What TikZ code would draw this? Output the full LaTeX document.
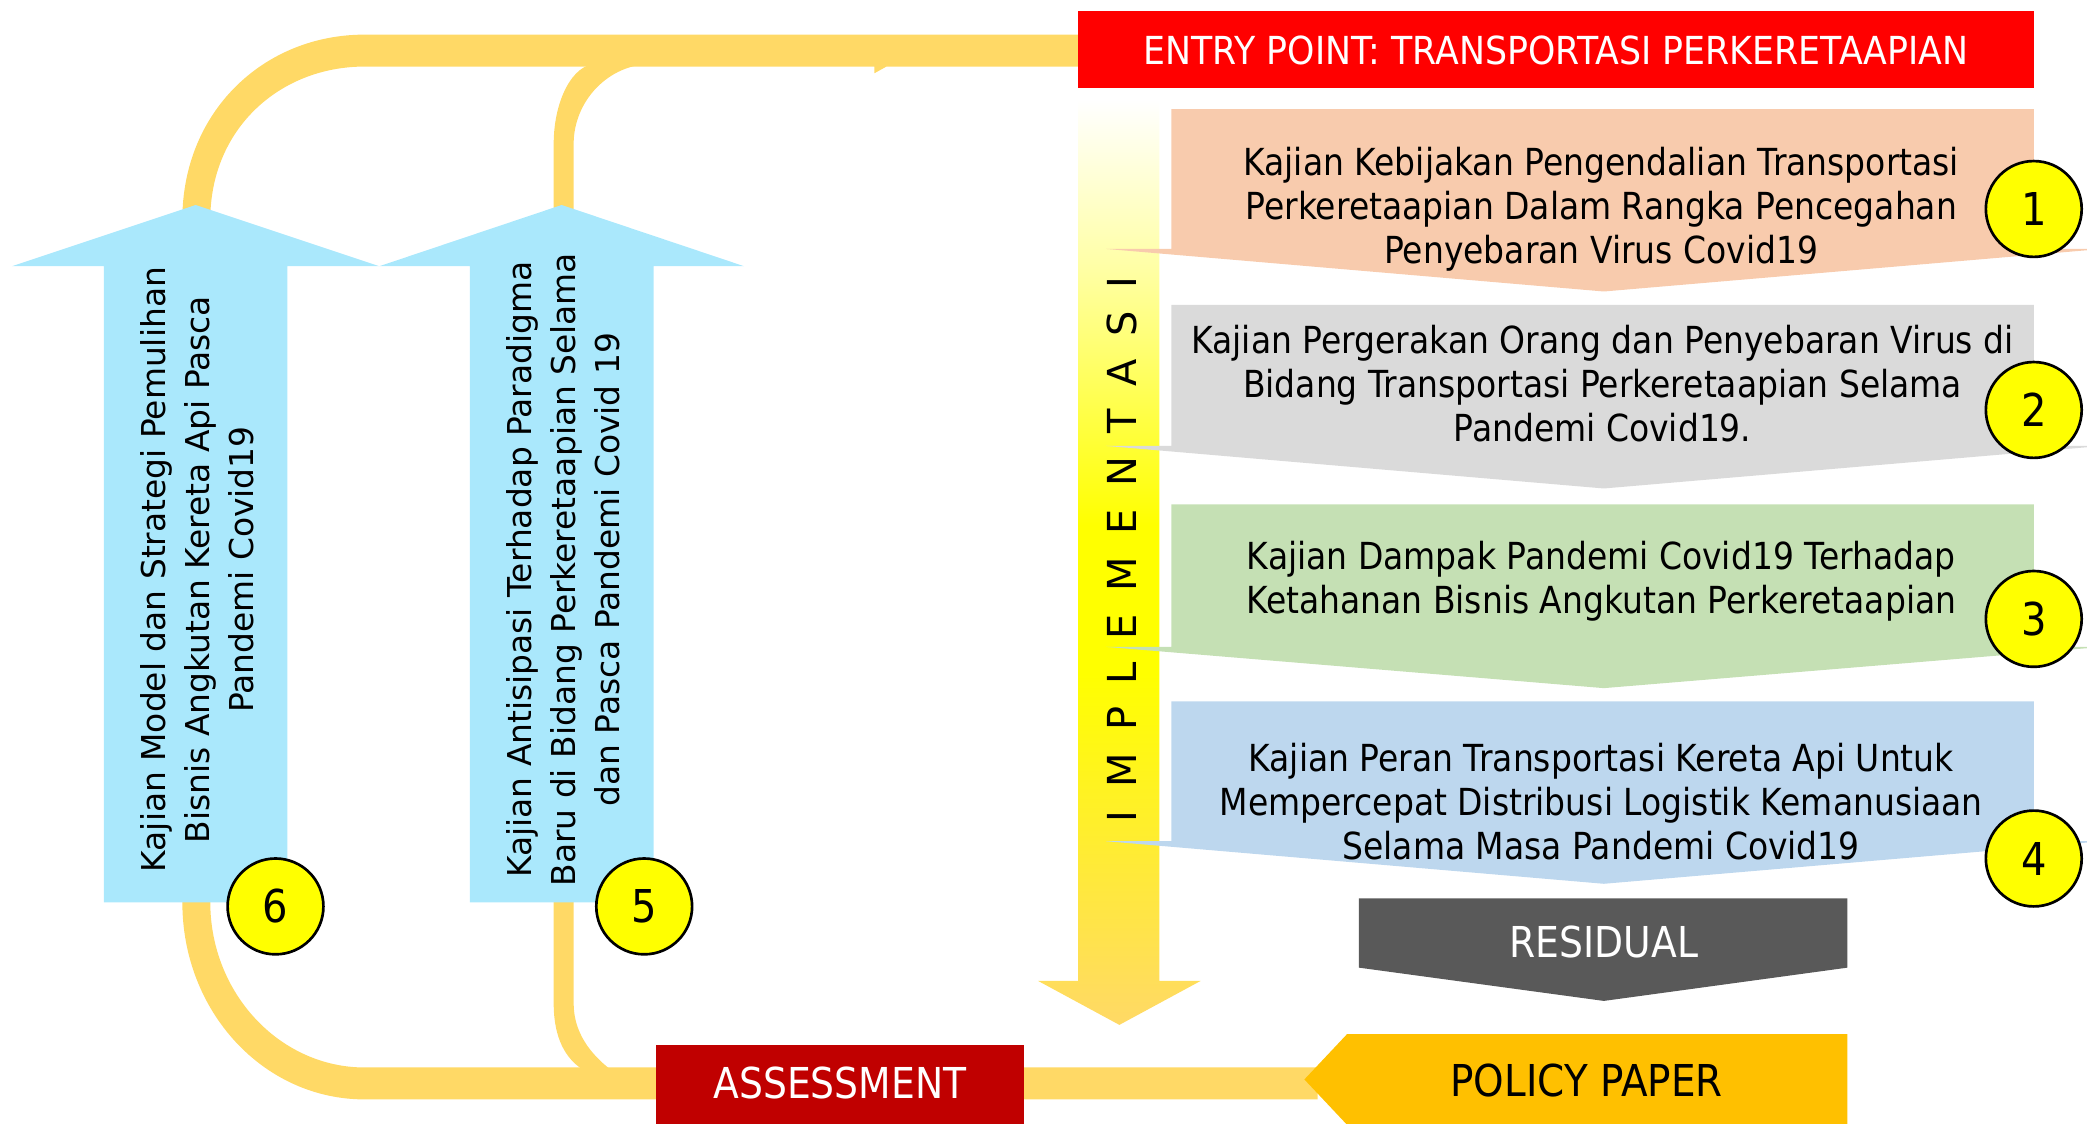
\documentclass[tikz,border=0pt]{standalone}
\usepackage{fontspec}
\setmainfont{DejaVu Sans}
\newfontfamily\tah[FakeStretch=0.885]{DejaVu Sans}
\newfontfamily\tahw[FakeStretch=0.90]{DejaVu Sans}
\definecolor{band}{HTML}{FFD966}
\definecolor{entryred}{HTML}{FF0000}
\definecolor{assessred}{HTML}{C00000}
\definecolor{policy}{HTML}{FFC000}
\definecolor{residual}{HTML}{595959}
\definecolor{arrowblue}{HTML}{AAE8FC}
\definecolor{boxA}{HTML}{F8CBAD}
\definecolor{boxB}{HTML}{DADADA}
\definecolor{boxC}{HTML}{C5E0B4}
\definecolor{boxD}{HTML}{BDD7EE}
\definecolor{pureyel}{HTML}{FFFF00}
\colorlet{paleyel}{pureyel!35!white}
\pgfdeclareverticalshading{implshade}{100bp}{color(0bp)=(band); color(25bp)=(band); color(44bp)=(pureyel); color(52bp)=(pureyel); color(66bp)=(paleyel); color(75bp)=(white); color(100bp)=(white)}
\begin{document}
\begin{tikzpicture}[x=1pt,y=-1pt,
  boxtext/.style={align=center, text=black, font=\tah\fontsize{28}{33}\selectfont, inner sep=0pt},
  whitelabel/.style={text=white, font=\tah\fontsize{32}{36}\selectfont, inner sep=0pt},
  vtext/.style={rotate=90, align=center, text=black, font=\fontsize{24.7}{33}\selectfont, inner sep=0pt},
  numcircle/.style={circle, fill=pureyel, draw=black, line width=2pt, minimum size=72pt, inner sep=0pt, font=\tah\fontsize{34}{38}\selectfont}]
\useasboundingbox (0,0) rectangle (1568,844);

% yellow feedback bands
\fill[band] (812,26) -- (274,26) .. controls (198,26) and (137,84) .. (137,165) -- (158,165) .. controls (158,97) and (210,50) .. (274,50) -- (657,50) -- (657,55) -- (666,50) -- (812,50) -- cycle;
\fill[band] (416,165) -- (416,108) .. controls (416,76) and (430,48) .. (448,48) -- (490,48) .. controls (457,48) and (431,76) .. (431,108) -- (431,165) -- cycle;
\fill[band] (137,670) -- (137,678) .. controls (137,760) and (198,826) .. (274,826) -- (990,826) -- (990,802) -- (274,802) .. controls (210,802) and (158,746) .. (158,678) -- (158,670) -- cycle;
\fill[band] (416,670) -- (416,754) .. controls (416,780) and (425,795) .. (437,803) -- (458,803) .. controls (444,792) and (431,776) .. (431,754) -- (431,670) -- cycle;

% blue up arrows
\fill[arrowblue] (78,678) -- (78,200) -- (9,200) -- (147,154) -- (285,200) -- (216,200) -- (216,678) -- cycle;
\fill[arrowblue] (353,678) -- (353,200) -- (285,200) -- (422,154) -- (559,200) -- (491,200) -- (491,678) -- cycle;
\node[vtext] (t6) at (148,428) {Kajian Model dan Strategi Pemulihan\\Bisnis Angkutan Kereta Api Pasca\\Pandemi Covid19};
\node[vtext] (t5) at (423,428) {Kajian Antisipasi Terhadap Paradigma\\Baru di Bidang Perkeretaapian Selama\\dan Pasca Pandemi Covid 19};

% implementasi arrow
\path[shading=implshade] (810,75) -- (871,75) -- (871,737) -- (902,737) -- (841,770) -- (780,737) -- (810,737) -- cycle;
\node[rotate=90, font=\fontsize{30}{36}\selectfont, inner sep=0pt] (impl) at (843,413) {\spaceskip=17pt\relax I M P L E M E N T A S I};

% entry point
\fill[entryred] (810,8) rectangle (1528,66);
\node[whitelabel, font=\tahw\fontsize{29}{33}\selectfont] (entry) at (1169,38) {ENTRY POINT: TRANSPORTASI PERKERETAAPIAN};

% study boxes
\fill[boxA] (880,82) -- (1528,82) -- (1528,187) -- (1568,187) -- (1568,188) -- (1205,219) -- (831,187) -- (880,187) -- cycle;
\fill[boxB] (880,229) -- (1528,229) -- (1528,335) -- (1568,335) -- (1568,336) -- (1205,367) -- (831,335) -- (880,335) -- cycle;
\fill[boxC] (880,379) -- (1528,379) -- (1528,486) -- (1568,486) -- (1568,487) -- (1205,517) -- (831,486) -- (880,486) -- cycle;
\fill[boxD] (880,527) -- (1528,527) -- (1528,632) -- (1568,632) -- (1568,633) -- (1205,664) -- (831,632) -- (880,632) -- cycle;
\node[boxtext] (t1) at (1203,157) {Kajian Kebijakan Pengendalian Transportasi\\Perkeretaapian Dalam Rangka Pencegahan\\Penyebaran Virus Covid19};
\node[boxtext] (t2) at (1204,288) {Kajian Pergerakan Orang dan Penyebaran Virus di\\Bidang Transportasi Perkeretaapian Selama\\Pandemi Covid19.};
\node[boxtext] (t3) at (1203,437) {Kajian Dampak Pandemi Covid19 Terhadap\\Ketahanan Bisnis Angkutan Perkeretaapian};
\node[boxtext] (t4) at (1203,602) {Kajian Peran Transportasi Kereta Api Untuk\\Mempercepat Distribusi Logistik Kemanusiaan\\Selama Masa Pandemi Covid19};

% residual
\fill[residual] (1021,675) -- (1388,675) -- (1388,727) -- (1205,752) -- (1021,727) -- cycle;
\node[whitelabel] (res) at (1205,708) {RESIDUAL};

% policy paper
\fill[policy] (1012,777) -- (1388,777) -- (1388,845) -- (1012,845) -- (980,811) -- cycle;
\node[whitelabel, text=black, font=\tah\fontsize{33}{37}\selectfont] (pol) at (1192,812) {POLICY PAPER};

% assessment
\fill[assessred] (493,785) rectangle (769,845);
\node[whitelabel] (ass) at (631,814) {ASSESSMENT};

% number circles
\node[numcircle] (c1) at (1528,157) {1};
\node[numcircle] (c2) at (1528,308) {2};
\node[numcircle] (c3) at (1528,465) {3};
\node[numcircle] (c4) at (1528,645) {4};
\node[numcircle] (c5) at (484,681) {5};
\node[numcircle] (c6) at (207,681) {6};
\end{tikzpicture}
\end{document}
